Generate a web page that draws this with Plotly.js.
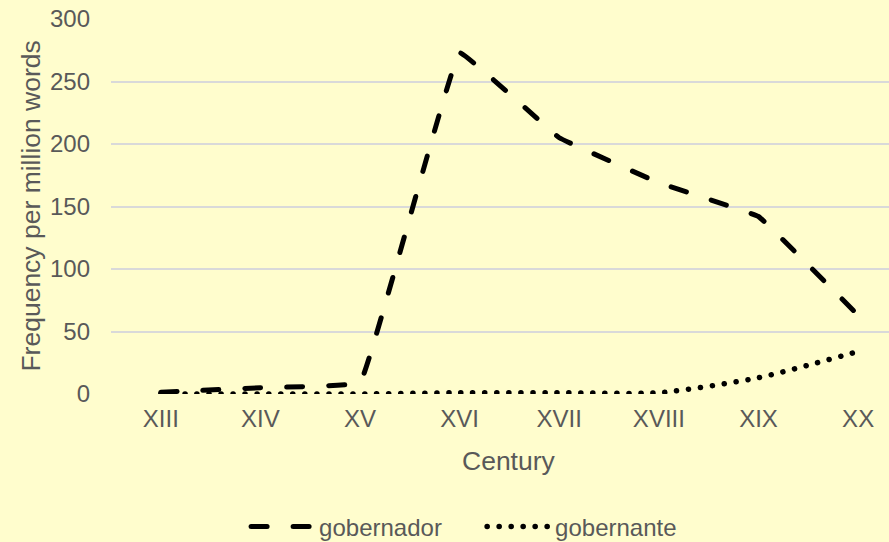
<!DOCTYPE html>
<html>
<head>
<meta charset="utf-8">
<script src="https://cdn.plot.ly/plotly-3.0.1.min.js"></script>
<style>
html, body { margin: 0; padding: 0; background: #FFFDCD; }
#chart { width: 889px; height: 542px; }
.scatterlayer path.js-line, .legend path.js-line { stroke-linecap: round; }
</style>
</head>
<body>
<div id="chart"></div>
<script>
const centuries = ["XIII", "XIV", "XV", "XVI", "XVII", "XVIII", "XIX", "XX"];
const gobernador = [1.5, 5, 9, 273, 205, 169, 142, 63];
const gobernante = [0, 0, 0, 1, 1, 1, 13, 34];
const yTicks = [0, 50, 100, 150, 200, 250, 300];

const font = "Liberation Sans, Arial, sans-serif";
const grey = "#595959";

const traces = [
  {
    x: centuries, y: gobernador, name: "gobernador", type: "scatter", mode: "lines",
    line: { color: "#000000", width: 5, dash: "16px,26px", shape: "spline", smoothing: 0.15 }
  },
  {
    x: centuries, y: gobernante, name: "gobernante", type: "scatter", mode: "lines",
    line: { color: "#000000", width: 5.5, dash: "0.1px,11.9px", shape: "spline", smoothing: 0.6 }
  }
];

const layout = {
  width: 889, height: 542,
  paper_bgcolor: "#FFFDCD", plot_bgcolor: "#FFFDCD",
  margin: { l: 111, r: 0, t: 19, b: 148, pad: 0 },
  font: { family: font, color: grey, size: 24 },
  showlegend: true,
  xaxis: {
    type: "category", range: [-0.5, 7.31],
    showgrid: false, zeroline: false, showline: false,
    ticks: "", tickfont: { size: 24, color: grey },
    ticklabelstandoff: 8
  },
  yaxis: {
    range: [0, 300], tickvals: yTicks, ticktext: yTicks.map(String),
    showgrid: true, gridcolor: "#D9D9D9", gridwidth: 2,
    zeroline: false, showline: false, ticks: "",
    tickfont: { size: 24, color: grey }, ticklabelstandoff: 20
  },
  legend: {
    orientation: "h", x: 0.477, xanchor: "center",
    yref: "container", y: 0.028, yanchor: "middle",
    font: { size: 24, color: grey }, itemwidth: 63,
    entrywidth: 158, entrywidthmode: "pixels",
    bgcolor: "rgba(0,0,0,0)", tracegroupgap: 0
  },
  annotations: [
    { text: "Century", xref: "paper", yref: "paper", x: 0.5116, y: -0.1787,
      xanchor: "center", yanchor: "middle", showarrow: false,
      font: { size: 26.5, color: grey } },
    { text: "Frequency per million words", xref: "paper", yref: "paper",
      x: -0.104, y: 0.5, xanchor: "center", yanchor: "middle", textangle: -90,
      showarrow: false, font: { size: 26.5, color: grey } }
  ]
};

Plotly.newPlot("chart", traces, layout, { displayModeBar: false, staticPlot: true });
</script>
</body>
</html>
